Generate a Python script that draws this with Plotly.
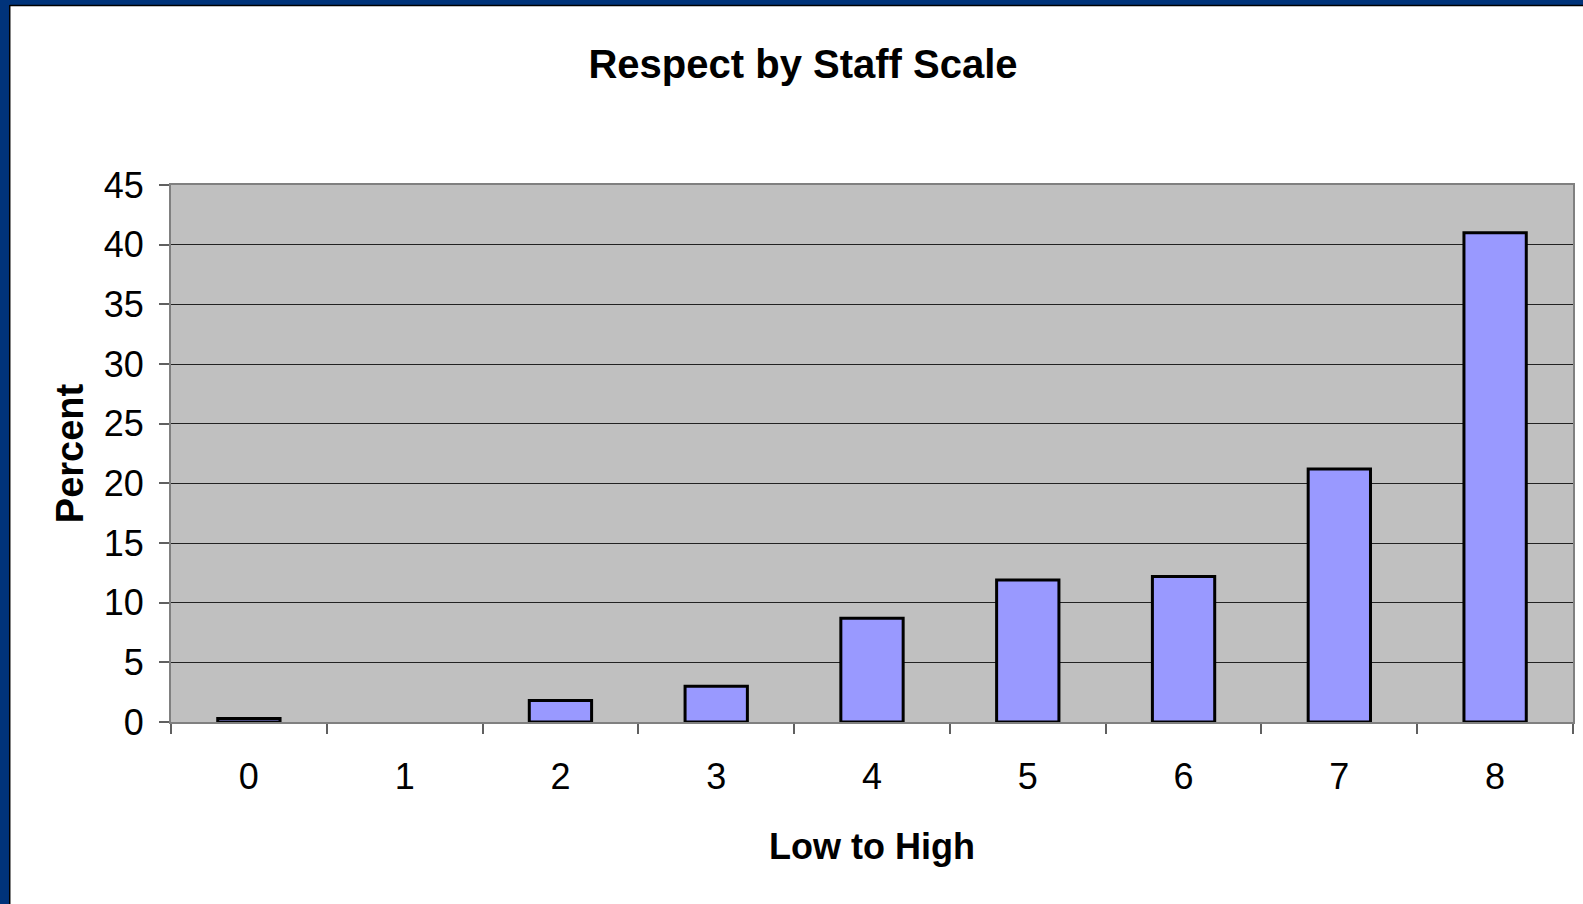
import plotly.graph_objects as go

categories = ["0", "1", "2", "3", "4", "5", "6", "7", "8"]
percent = [0.3, 0.0, 1.8, 3.0, 8.7, 11.9, 12.2, 21.2, 41.0]
y_ticks = [0, 5, 10, 15, 20, 25, 30, 35, 40, 45]

W, H = 1583, 904
ML, MR, MT, MB = 171, 8, 185, 182
PW, PH = W - ML - MR, H - MT - MB

def px_x(p):
    return (p - ML) / PW

def px_y(p):
    return (H - MB - p) / PH

FONT = "Liberation Sans, Arial, sans-serif"

fig = go.Figure(go.Bar(
    x=categories, y=percent, width=0.4,
    marker=dict(color="#9999FF",
                line=dict(color="black", width=[0 if v == 0 else 3 for v in percent])),
))

fig.update_layout(
    width=W, height=H,
    margin=dict(l=ML, r=MR, t=MT, b=MB),
    paper_bgcolor="white", plot_bgcolor="#C0C0C0",
    showlegend=False,
    font=dict(family=FONT, color="black"),
    title=dict(text="<b>Respect by Staff Scale</b>", x=803 / W, xref="container",
               xanchor="center", y=1 - 64 / H, yref="container", yanchor="middle",
               font=dict(size=40, family=FONT, color="black")),
    xaxis=dict(type="category", tickson="boundaries", ticks="outside", ticklen=10,
               tickcolor="#606060", tickwidth=2, showline=True, linecolor="#808080",
               linewidth=2, mirror=True, showgrid=False,
               tickfont=dict(size=36, family=FONT), ticklabelstandoff=22,
               title=dict(text="<b>Low to High</b>", font=dict(size=36, family=FONT),
                          standoff=38)),
    yaxis=dict(range=[0, 45], tickvals=y_ticks, ticks="outside", ticklen=10,
               tickcolor="#606060", tickwidth=2, showline=True, linecolor="#808080",
               linewidth=2, mirror=True, showgrid=True, gridcolor="#222222",
               gridwidth=1, zeroline=False,
               tickfont=dict(size=36, family=FONT), ticklabelstandoff=8,
               title=dict(text="<b>Percent</b>", font=dict(size=38, family=FONT),
                          standoff=8)),
)

# Dark blue slide frame (left and top) with thin black inner line
frame = "#00337A"
fig.add_shape(type="rect", xref="paper", yref="paper", layer="above",
              x0=px_x(-5), x1=px_x(9), y0=px_y(H + 5), y1=px_y(-5),
              fillcolor=frame, line=dict(width=0))
fig.add_shape(type="rect", xref="paper", yref="paper", layer="above",
              x0=px_x(-5), x1=px_x(W + 5), y0=px_y(5), y1=px_y(-5),
              fillcolor=frame, line=dict(width=0))
fig.add_shape(type="line", xref="paper", yref="paper", layer="above",
              x0=px_x(9.5), x1=px_x(9.5), y0=px_y(H + 5), y1=px_y(5),
              line=dict(color="black", width=1.5))
fig.add_shape(type="line", xref="paper", yref="paper", layer="above",
              x0=px_x(9.5), x1=px_x(W + 5), y0=px_y(5.5), y1=px_y(5.5),
              line=dict(color="black", width=1.5))

fig.write_html("out.html", config={"displayModeBar": False},
               post_script="document.body.style.margin='0';document.body.style.overflow='hidden';")
